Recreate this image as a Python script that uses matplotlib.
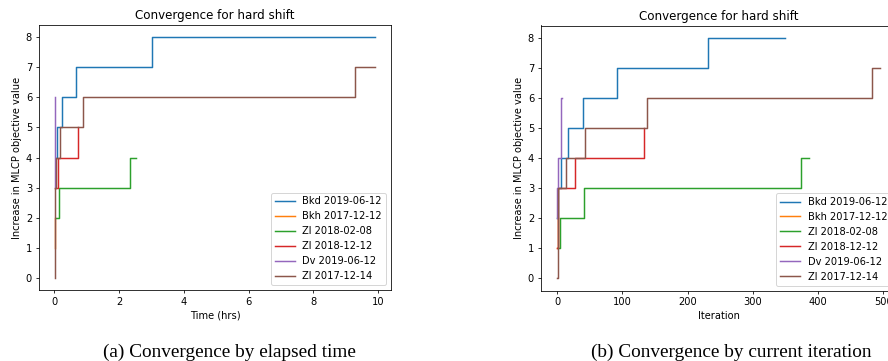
import matplotlib
matplotlib.use("Agg")
import matplotlib.pyplot as plt

# ---- data: left panel (elapsed time, hrs) ----
labels = ["Bkd 2019-06-12", "Bkh 2017-12-12", "Zl 2018-02-08",
          "Zl 2018-12-12", "Dv 2019-06-12", "Zl 2017-12-14"]

bkd_t = [0.04, 0.08, 0.25, 0.66, 3.03, 9.9]
bkd_t_y = [4, 5, 6, 7, 8, 8]
bkh_t = [0.02, 0.03]
bkh_t_y = [1, 2]
zl0208_t = [0.05, 0.15, 2.35, 2.53]
zl0208_t_y = [2, 3, 4, 4]
zl1212_t = [0.03, 0.10, 0.74]
zl1212_t_y = [3, 4, 5]
dv_t = [0.03, 0.031, 0.032, 0.033]
dv_t_y = [3, 4, 5, 6]
zl1214_t = [0.02, 0.03, 0.06, 0.18, 0.87, 9.27, 9.9]
zl1214_t_y = [0, 3, 4, 5, 6, 7, 7]

# ---- data: right panel (iteration) ----
bkd_i = [0, 1, 6, 16, 39, 92, 231, 350]
bkd_i_y = [2, 3, 4, 5, 6, 7, 8, 8]
bkh_i = [0, 1]
bkh_i_y = [1, 2]
zl0208_i = [1, 4, 41, 374, 387]
zl0208_i_y = [1, 2, 3, 4, 4]
zl1212_i = [0, 1, 28, 133]
zl1212_i_y = [1, 3, 4, 5]
dv_i = [0, 0.5, 2, 5.5, 6.5, 7]
dv_i_y = [2, 3, 4, 5, 6, 6]
zl1214_i = [0, 1, 13, 43, 138, 483, 495]
zl1214_i_y = [0, 3, 4, 5, 6, 7, 7]

title = "Convergence for hard shift"
ylabel = "Increase in MLCP objective value"
caption_a = "(a) Convergence by elapsed time"
caption_b = "(b) Convergence by current iteration"

left_series = [(bkd_t, bkd_t_y), (bkh_t, bkh_t_y), (zl0208_t, zl0208_t_y),
               (zl1212_t, zl1212_t_y), (dv_t, dv_t_y), (zl1214_t, zl1214_t_y)]
right_series = [(bkd_i, bkd_i_y), (bkh_i, bkh_i_y), (zl0208_i, zl0208_i_y),
                (zl1212_i, zl1212_i_y), (dv_i, dv_i_y), (zl1214_i, zl1214_i_y)]

DPI = 71
fig = plt.figure(figsize=(888 / DPI, 361 / DPI), dpi=DPI)

W, H = 888.0, 361.0
ax1 = fig.add_axes([39 / W, (H - 290) / H, 352 / W, 265 / H])
ax2 = fig.add_axes([541 / W, (H - 290.5) / H, 355 / W, 265 / H])

for ax, series, xlabel in [(ax1, left_series, "Time (hrs)"),
                           (ax2, right_series, "Iteration")]:
    for i, ((x, y), lab) in enumerate(zip(series, labels)):
        ax.plot(x, y, drawstyle="steps-post", color=f"C{i}", label=lab)
    ax.set_title(title)
    ax.set_xlabel(xlabel)
    ax.set_ylabel(ylabel)
    ax.set_yticks(range(0, 9))
    ax.legend(loc="lower right")

fig.text(229 / W, (H - 357) / H, caption_a, ha="center", va="baseline",
         family="Liberation Serif", fontsize=19.5)
fig.text(731 / W, (H - 357) / H, caption_b, ha="center", va="baseline",
         family="Liberation Serif", fontsize=19.5)

fig.savefig("out.png", dpi=DPI)
